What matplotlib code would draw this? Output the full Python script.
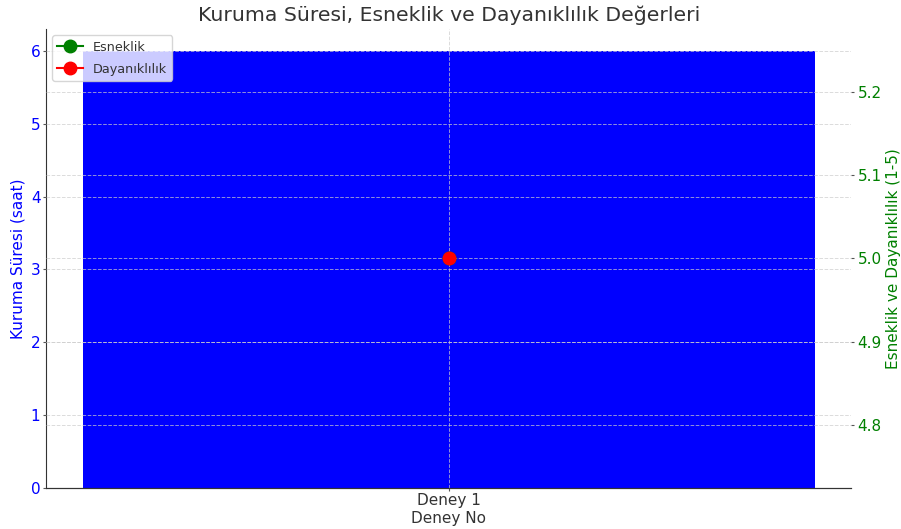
import matplotlib
matplotlib.use("Agg")
import matplotlib.pyplot as plt

deneyler = ["Deney 1"]
kuruma_suresi = [6]
esneklik = [5]
dayaniklilik = [5]

plt.rcParams["font.family"] = ["DejaVu Sans"]
text_col = "#333333"

fig, ax1 = plt.subplots(figsize=(9.01, 5.29), dpi=100)

ax1.bar(deneyler, kuruma_suresi, color="blue", label="Kuruma Süresi")
ax1.set_xlabel("Deney No", fontsize=11, color=text_col, labelpad=2)
ax1.set_ylabel("Kuruma Süresi (saat)", color="blue", fontsize=11, labelpad=3.5)
ax1.tick_params(axis="y", labelcolor="blue", labelsize=11, color="#555555",
                length=2.5, pad=1.5)
ax1.tick_params(axis="x", labelsize=11, labelcolor=text_col, color="#555555",
                length=2, pad=2)
ax1.set_axisbelow(False)
ax1.grid(True, linestyle="--", color="#cccccc", alpha=0.7, linewidth=0.7)

ax2 = ax1.twinx()
ax2.plot(deneyler, esneklik, "o-", color="green", markersize=9, label="Esneklik")
ax2.plot(deneyler, dayaniklilik, "o-", color="red", markersize=9, label="Dayanıklılık")
ax2.set_ylabel("Esneklik ve Dayanıklılık (1-5)", color="green", fontsize=11,
               labelpad=3)
ax2.tick_params(axis="y", labelcolor="green", labelsize=11, color="#555555",
                length=2.5, pad=2)
ax2.grid(True, linestyle="--", color="#cccccc", alpha=0.7, linewidth=0.7)

for ax in (ax1, ax2):
    ax.spines["top"].set_visible(False)
    ax.spines["right"].set_visible(False)
    ax.spines["left"].set_color("#333333")
    ax.spines["bottom"].set_color("#333333")
ax2.spines["left"].set_visible(False)

ax2.legend(loc="upper left", fontsize=9.2, framealpha=0.8,
           labelcolor=text_col, labelspacing=0.7)

ax1.set_title("Kuruma Süresi, Esneklik ve Dayanıklılık Değerleri",
              fontsize=14.7, color=text_col)

fig.subplots_adjust(left=0.051, right=0.945, top=0.945, bottom=0.078)
fig.savefig("out.png", dpi=100)
